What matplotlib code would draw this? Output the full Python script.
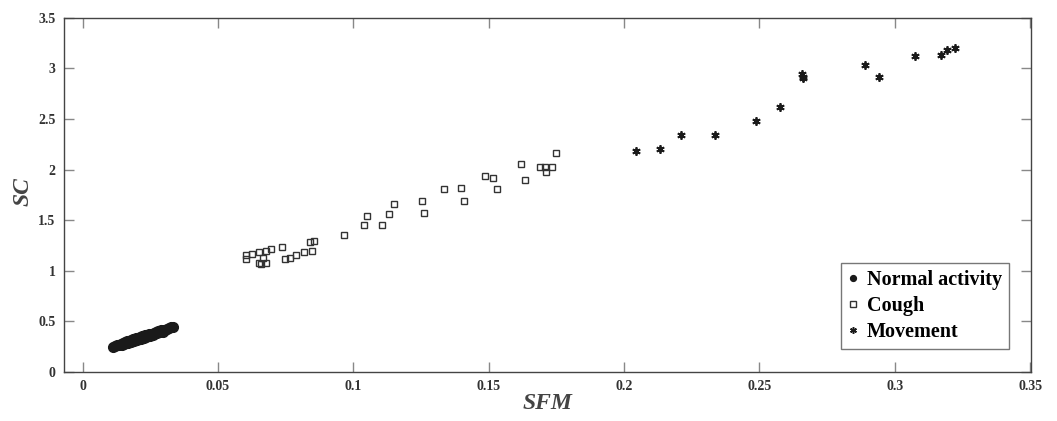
import matplotlib
matplotlib.use("Agg")
import matplotlib.pyplot as plt

plt.rcParams['font.family'] = ['Liberation Serif', 'DejaVu Serif']

normal_x = [0.0112, 0.0120, 0.0128, 0.0135, 0.0140, 0.0145, 0.0150, 0.0152, 0.0158, 0.0160,
            0.0165, 0.0168, 0.0172, 0.0175, 0.0178, 0.0180, 0.0185, 0.0188, 0.0190, 0.0195,
            0.0198, 0.0200, 0.0205, 0.0208, 0.0212, 0.0215, 0.0218, 0.0220, 0.0225, 0.0228,
            0.0232, 0.0235, 0.0238, 0.0242, 0.0245, 0.0250, 0.0255, 0.0258, 0.0262, 0.0265,
            0.0270, 0.0275, 0.0280, 0.0285, 0.0290, 0.0295, 0.0300, 0.0305, 0.0310, 0.0318,
            0.0325, 0.0333]
normal_y = [0.245, 0.252, 0.266, 0.262, 0.281, 0.270, 0.290, 0.276, 0.297, 0.282,
            0.305, 0.288, 0.311, 0.295, 0.318, 0.300, 0.323, 0.305, 0.328, 0.312,
            0.334, 0.318, 0.340, 0.322, 0.345, 0.330, 0.352, 0.335, 0.356, 0.340,
            0.362, 0.348, 0.368, 0.352, 0.372, 0.360, 0.380, 0.368, 0.388, 0.375,
            0.395, 0.384, 0.402, 0.392, 0.410, 0.400, 0.418, 0.412, 0.428, 0.430,
            0.440, 0.448]

cough_x = [0.0605, 0.0605, 0.0625, 0.0650, 0.0678, 0.0697, 0.0737, 0.0667, 0.0651, 0.0660,
           0.0678, 0.0746, 0.0764, 0.0789, 0.0817, 0.0846, 0.0841, 0.0854, 0.0966, 0.1040,
           0.1052, 0.1107, 0.1131, 0.1150, 0.1260, 0.1254, 0.1333, 0.1398, 0.1409, 0.1485,
           0.1517, 0.1530, 0.1619, 0.1635, 0.1690, 0.1706, 0.1713, 0.1735, 0.1748]
cough_y = [1.156, 1.114, 1.169, 1.189, 1.199, 1.212, 1.235, 1.126, 1.080, 1.067,
           1.080, 1.117, 1.129, 1.153, 1.189, 1.193, 1.288, 1.294, 1.354, 1.453,
           1.544, 1.450, 1.558, 1.660, 1.571, 1.690, 1.811, 1.815, 1.690, 1.940,
           1.920, 1.811, 2.055, 1.900, 2.029, 2.029, 1.979, 2.029, 2.167]

move_x = [0.2044, 0.2131, 0.2209, 0.2335, 0.2487, 0.2577, 0.2657, 0.2661, 0.2662, 0.2888,
          0.2941, 0.3073, 0.3170, 0.3193, 0.3223]
move_y = [2.184, 2.207, 2.339, 2.339, 2.477, 2.619, 2.942, 2.918, 2.902, 3.031,
          2.915, 3.123, 3.132, 3.179, 3.202]

x_ticks = [0, 0.05, 0.1, 0.15, 0.2, 0.25, 0.3, 0.35]
x_tick_labels = ['0', '0.05', '0.1', '0.15', '0.2', '0.25', '0.3', '0.35']
y_ticks = [0, 0.5, 1, 1.5, 2, 2.5, 3, 3.5]
y_tick_labels = ['0', '0.5', '1', '1.5', '2', '2.5', '3', '3.5']

fig = plt.figure(figsize=(10.57, 4.21), dpi=100)
ax = fig.add_axes([64/1057, 49/421, (1031-64)/1057, (372-17.7)/421])

ax.plot(normal_x, normal_y, linestyle='none', marker='o', markersize=7,
        color='#1a1a1a', label='Normal activity')
ax.plot(cough_x, cough_y, linestyle='none', marker='s', markersize=5,
        markerfacecolor='none', markeredgecolor='#333333', markeredgewidth=1.0, label='Cough')
ax.plot(move_x, move_y, linestyle='none', marker=(6, 2, 0), markersize=6,
        markeredgewidth=1.3, color='#1a1a1a', label='Movement')

ax.set_xlim(-0.0069, 0.3503)
ax.set_ylim(0, 3.5)
ax.set_xticks(x_ticks)
ax.set_xticklabels(x_tick_labels)
ax.set_yticks(y_ticks)
ax.set_yticklabels(y_tick_labels)

ax.tick_params(direction='in', length=7, width=1, color='#888888',
               top=True, right=True, labelsize=10, labelcolor='#333333', pad=6)
for lab in ax.get_xticklabels() + ax.get_yticklabels():
    lab.set_fontweight('bold')
for s in ax.spines.values():
    s.set_color('#444444')
    s.set_linewidth(1.0)

ax.set_xlabel('SFM', fontsize=17, fontstyle='italic', fontweight='bold', color='#444444')
ax.set_ylabel('SC', fontsize=17, fontstyle='italic', fontweight='bold', color='#444444')
ax.xaxis.set_label_coords(0.5, -0.06)
ax.yaxis.set_label_coords(-0.031, 0.51)

leg = ax.legend(loc='lower right', bbox_to_anchor=(1009/1057, (421-349)/421),
                bbox_transform=fig.transFigure, prop={'weight': 'bold', 'size': 14.5},
                frameon=True, fancybox=False, handlelength=0.5, handletextpad=0.45,
                borderpad=0.35, labelspacing=0.3, borderaxespad=0)
leg.get_frame().set_edgecolor('#555555')
leg.get_frame().set_linewidth(1.0)
for h, ms, mew in zip(leg.legend_handles, [4.2, 4.5, 4.8], [1.0, 1.0, 1.1]):
    h.set_markersize(ms)
    h.set_markeredgewidth(mew)

fig.savefig('out.png', dpi=100)
